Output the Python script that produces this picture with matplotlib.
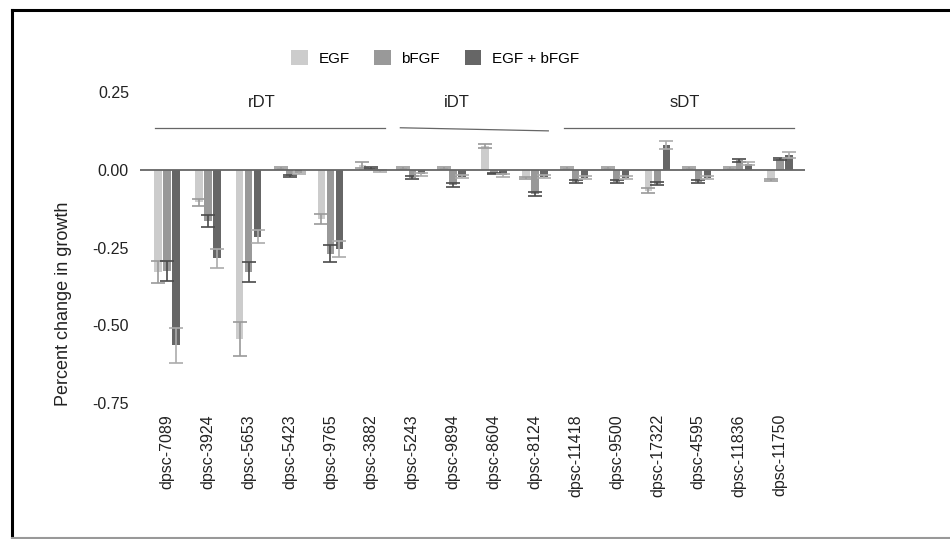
import matplotlib
matplotlib.use("Agg")
import matplotlib.pyplot as plt
from matplotlib.lines import Line2D
from matplotlib.patches import Patch
import numpy as np

plt.rcParams['font.family'] = ['Liberation Sans', 'DejaVu Sans']
plt.rcParams['axes.unicode_minus'] = False

# --- data ---
lines = ['dpsc-7089', 'dpsc-3924', 'dpsc-5653', 'dpsc-5423', 'dpsc-9765', 'dpsc-3882',
         'dpsc-5243', 'dpsc-9894', 'dpsc-8604', 'dpsc-8124',
         'dpsc-11418', 'dpsc-9500', 'dpsc-17322', 'dpsc-4595', 'dpsc-11836', 'dpsc-11750']

egf = [-0.33, -0.105, -0.545, 0.005, -0.158, 0.015,
       0.005, 0.005, 0.077, -0.027,
       0.005, 0.005, -0.068, 0.005, 0.005, -0.032]
egf_err = [0.035, 0.011, 0.055, 0.003, 0.016, 0.01,
           0.003, 0.003, 0.007, 0.003,
           0.003, 0.003, 0.008, 0.003, 0.003, 0.003]

bfgf = [-0.325, -0.165, -0.33, -0.02, -0.27, 0.005,
        -0.025, -0.05, -0.012, -0.078,
        -0.038, -0.038, -0.045, -0.038, 0.03, 0.035]
bfgf_err = [0.032, 0.018, 0.032, 0.004, 0.028, 0.003,
            0.004, 0.006, 0.003, 0.008,
            0.004, 0.004, 0.005, 0.004, 0.004, 0.004]

combo = [-0.565, -0.285, -0.215, -0.01, -0.255, -0.005,
         -0.015, -0.022, -0.018, -0.022,
         -0.025, -0.025, 0.08, -0.025, 0.02, 0.048]
combo_err = [0.055, 0.03, 0.022, 0.003, 0.025, 0.003,
             0.005, 0.004, 0.004, 0.005,
             0.004, 0.004, 0.012, 0.004, 0.004, 0.01]

groups = ['rDT', 'iDT', 'sDT']
group_span = [(0, 5), (6, 9), (10, 15)]

series_names = ['EGF', 'bFGF', 'EGF + bFGF']
bar_colors = ['#cccccc', '#999999', '#666666']
err_colors = ['#9a9a9a', '#4a4a4a', '#ababab']

fig = plt.figure(figsize=(9.5, 5.39), dpi=100)
ax = fig.add_axes([140 / 950, 136 / 539, 665 / 950, 311 / 539])

x = np.arange(len(lines))
w = 0.18
off = 0.22
for k, (vals, errs) in enumerate([(egf, egf_err), (bfgf, bfgf_err), (combo, combo_err)]):
    pos = x + (k - 1) * off
    ax.bar(pos, vals, width=w, color=bar_colors[k], zorder=2)
    ax.errorbar(pos, vals, yerr=errs, fmt='none', ecolor=err_colors[k],
                elinewidth=1.2, capsize=5, capthick=1.2, zorder=3)

ax.axhline(0, color='#666666', lw=1.3, zorder=4)

# group labels with bracket lines
for name, (a, b) in zip(groups, group_span):
    x0 = a - 0.29
    x1 = b + 0.33
    if name == 'iDT':
        ax.plot([x0, x1], [0.135, 0.125], color='#666666', lw=0.9)
    else:
        ax.plot([x0, x1], [0.135, 0.135], color='#666666', lw=0.9)
for name, gx in zip(groups, [2.32, 7.1, 12.68]):
    ax.text(gx, 0.215, name, ha='center', va='center', fontsize=12, color='#222222')

ax.set_xlim(-0.66, 15.61)
ax.set_ylim(-0.75, 0.25)
ax.set_yticks([-0.75, -0.5, -0.25, 0, 0.25])
ax.set_yticklabels(['-0.75', '-0.50', '-0.25', '0.00', '0.25'])
ax.set_xticks(x)
ax.set_xticklabels(lines, rotation=90)
ax.tick_params(length=0, labelsize=11.5, colors='#222222', pad=8)
for s in ax.spines.values():
    s.set_visible(False)
ax.set_ylabel('Percent change in growth', fontsize=13, color='#222222')
ax.yaxis.set_label_coords(-0.103, 0.32)

handles = [Patch(facecolor=c, edgecolor='none') for c in bar_colors]
fig.legend(handles, series_names, loc='center', bbox_to_anchor=(435 / 950, 1 - 58 / 539),
           ncol=3, frameon=False, fontsize=11, handlelength=1.1, handleheight=1.1,
           columnspacing=1.6, handletextpad=0.7)

# frame of the original panel
fig.add_artist(Line2D([12 / 950, 12 / 950], [0, 1 - 10 / 539], color='black', lw=2.2, transform=fig.transFigure))
fig.add_artist(Line2D([12 / 950, 1], [1 - 10 / 539, 1 - 10 / 539], color='black', lw=2.2, transform=fig.transFigure))
fig.add_artist(Line2D([12 / 950, 1], [1 / 539, 1 / 539], color='#999999', lw=1.5, transform=fig.transFigure))

fig.savefig('out.png', dpi=100)
